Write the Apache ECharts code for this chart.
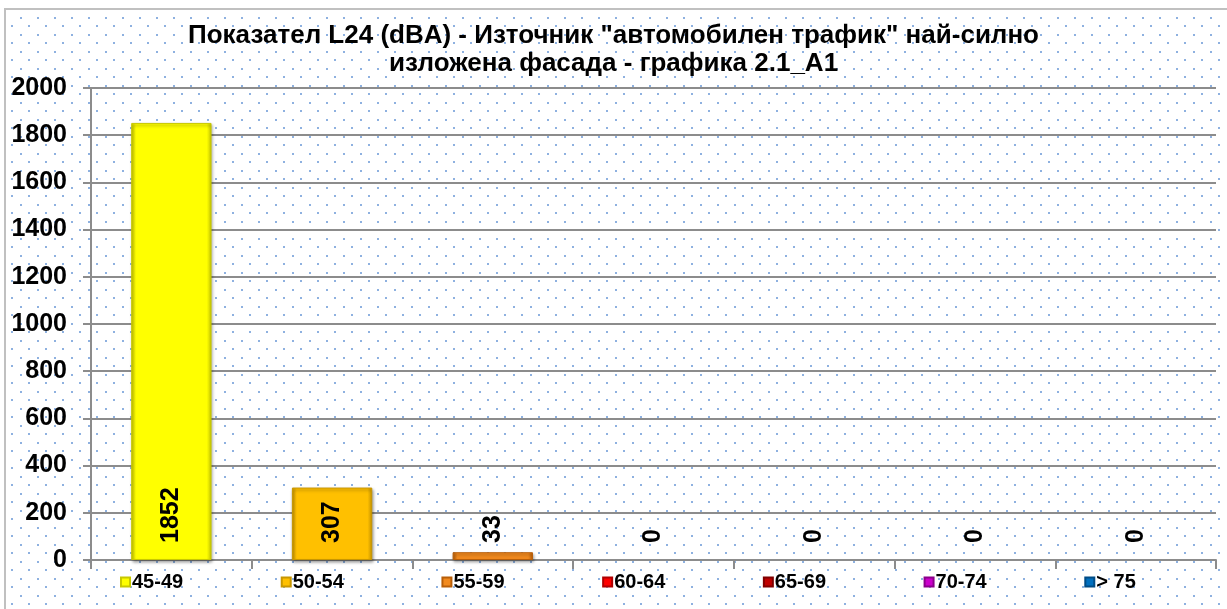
<!DOCTYPE html>
<html>
<head>
<meta charset="utf-8">
<script src="https://cdn.jsdelivr.net/npm/echarts@6/dist/echarts.min.js"></script>
<style>
  html, body { margin: 0; padding: 0; background: #fff; }
  #chart { width: 1227px; height: 609px; }
</style>
</head>
<body>
<div id="chart"></div>
<script>
// данни
var categories = ['45-49', '50-54', '55-59', '60-64', '65-69', '70-74', '> 75'];
var values = [1852, 307, 33, 0, 0, 0, 0];
var barColors = ['#FFFF00', '#FFC000', '#F28A1E', '#FF0000', '#C00000', '#CC00CC', '#0070C0'];
var edgeColors = ['#C8C800', '#C89600', '#B85E08', '#B00000', '#800000', '#8A008A', '#004C86'];
var yTicks = [0, 200, 400, 600, 800, 1000, 1200, 1400, 1600, 1800, 2000];

var chart = echarts.init(document.getElementById('chart'));

// фон на точки
var dots = document.createElement('canvas');
dots.width = 17; dots.height = 17;
var ctx = dots.getContext('2d');
ctx.fillStyle = '#fff';
ctx.fillRect(0, 0, 17, 17);
ctx.fillStyle = '#8EB1E0';
ctx.fillRect(3, 0, 2, 2);
ctx.fillRect(11, 8, 2, 2);

var font = 'Liberation Sans, Arial, sans-serif';
var gridLeft = 91, gridRight = 11, gridTop = 88, gridBottom = 49;
var catW = (1227 - gridLeft - gridRight) / categories.length;

var series = categories.map(function (name, i) {
  return {
    name: name,
    type: 'bar',
    stack: 'all',
    barWidth: '50%',
    data: categories.map(function (c, j) {
      if (j !== i) return '-';
      if (values[i] === 0) {
        // нулевите стълбове не се виждат, остава само етикетът
        return { value: 0, itemStyle: { borderWidth: 0, shadowColor: 'transparent' } };
      }
      return values[i];
    }),
    itemStyle: {
      color: {
        type: 'linear', x: 0, y: 0, x2: 1, y2: 0,
        colorStops: [
          { offset: 0, color: edgeColors[i] },
          { offset: 0.06, color: barColors[i] },
          { offset: 0.94, color: barColors[i] },
          { offset: 1, color: edgeColors[i] }
        ]
      },
      borderColor: edgeColors[i],
      borderWidth: 1,
      shadowColor: 'rgba(0,0,0,0.35)',
      shadowBlur: 3,
      shadowOffsetX: 1,
      shadowOffsetY: 2
    },
    label: {
      show: true,
      position: 'insideBottom',
      rotate: 90,
      align: 'left',
      verticalAlign: 'middle',
      distance: 17,
      color: '#000',
      fontSize: 25,
      fontWeight: 'bold',
      fontFamily: font
    }
  };
});

// легенда под всяка категория
var legends = categories.map(function (name, i) {
  return {
    data: [name],
    left: gridLeft + i * catW + 29,
    top: 572,
    icon: 'rect',
    itemWidth: 9,
    itemHeight: 9,
    padding: 0,
    selectedMode: false,
    textStyle: {
      color: '#000',
      fontSize: 20,
      fontWeight: 'bold',
      fontFamily: font,
      padding: [0, 0, 0, -3]
    }
  };
});

var option = {
  backgroundColor: '#fff',
  animation: false,
  graphic: [{
    type: 'rect',
    z: -10,
    silent: true,
    shape: { x: 5, y: 9, width: 1240, height: 620 },
    style: { fill: { image: dots, repeat: 'repeat' }, stroke: '#C0C0C0', lineWidth: 2 }
  }],
  title: {
    text: 'Показател L24 (dBA) - Източник "автомобилен трафик" най-силно\nизложена фасада - графика 2.1_А1',
    left: 'center',
    top: 17,
    textStyle: {
      color: '#000',
      fontSize: 26,
      fontWeight: 'bold',
      lineHeight: 28,
      fontFamily: font
    }
  },
  legend: legends,
  grid: { left: gridLeft, right: gridRight, top: gridTop, bottom: gridBottom },
  xAxis: {
    type: 'category',
    data: categories,
    axisLine: { lineStyle: { color: '#8C8C8C', width: 2 } },
    axisTick: { show: true, length: 9, lineStyle: { color: '#8C8C8C', width: 2 } },
    axisLabel: { show: false }
  },
  yAxis: {
    type: 'value',
    min: yTicks[0],
    max: yTicks[yTicks.length - 1],
    interval: yTicks[1] - yTicks[0],
    axisLine: { show: true, lineStyle: { color: '#8C8C8C', width: 2 } },
    axisTick: { show: true, length: 8, lineStyle: { color: '#8C8C8C', width: 2 } },
    splitLine: { lineStyle: { color: '#8C8C8C', width: 2 } },
    axisLabel: {
      color: '#000',
      fontSize: 25,
      fontWeight: 'bold',
      margin: 24,
      fontFamily: font,
      formatter: function (v) { return String(v); }
    }
  },
  series: series
};

chart.setOption(option);
</script>
</body>
</html>
